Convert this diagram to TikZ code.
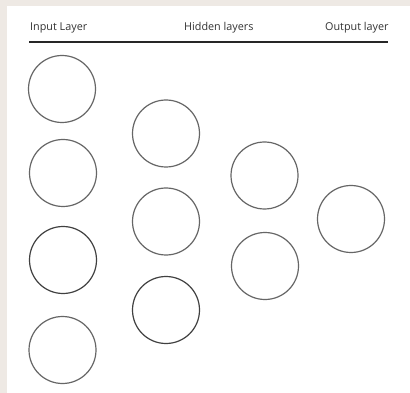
\documentclass[tikz,border=0pt]{standalone}
\usepackage{fontspec}
\setmainfont{Open Sans}
\begin{document}
\begin{tikzpicture}[x=1pt,y=-1pt,
  neuron/.style={circle,draw=black!60,line width=1.2pt,minimum size=67pt,inner sep=0pt},
  head/.style={inner sep=0pt,anchor=base west,text=black!80,font=\fontsize{10.8}{12}\selectfont}]
\useasboundingbox (0,0) rectangle (410,393);
\fill[gray!10!white!92!brown] (0,0) rectangle (410,393);
\fill[white] (7,6) rectangle (410,393);
\node[head] (tin) at (30,31) {Input Layer};
\node[head] (thid) at (184,31) {Hidden layers};
\node[head] (tout) at (325,31) {Output layer};
\coordinate (la) at (29,42.3);
\coordinate (lb) at (388,42.3);
\draw[line width=1.8pt,black!85] (la) -- (lb);
\node[neuron] (i1) at (62,89) {};
\node[neuron] (i2) at (63,173) {};
\node[neuron,draw=black!75] (i3) at (63,260) {};
\node[neuron] (i4) at (62.5,350) {};
\node[neuron] (h1) at (166,133.5) {};
\node[neuron] (h2) at (166,221.5) {};
\node[neuron,draw=black!75] (h3) at (166,310) {};
\node[neuron] (g1) at (264.5,175.5) {};
\node[neuron] (g2) at (265,266) {};
\node[neuron] (o1) at (351,219) {};
\end{tikzpicture}
\end{document}
